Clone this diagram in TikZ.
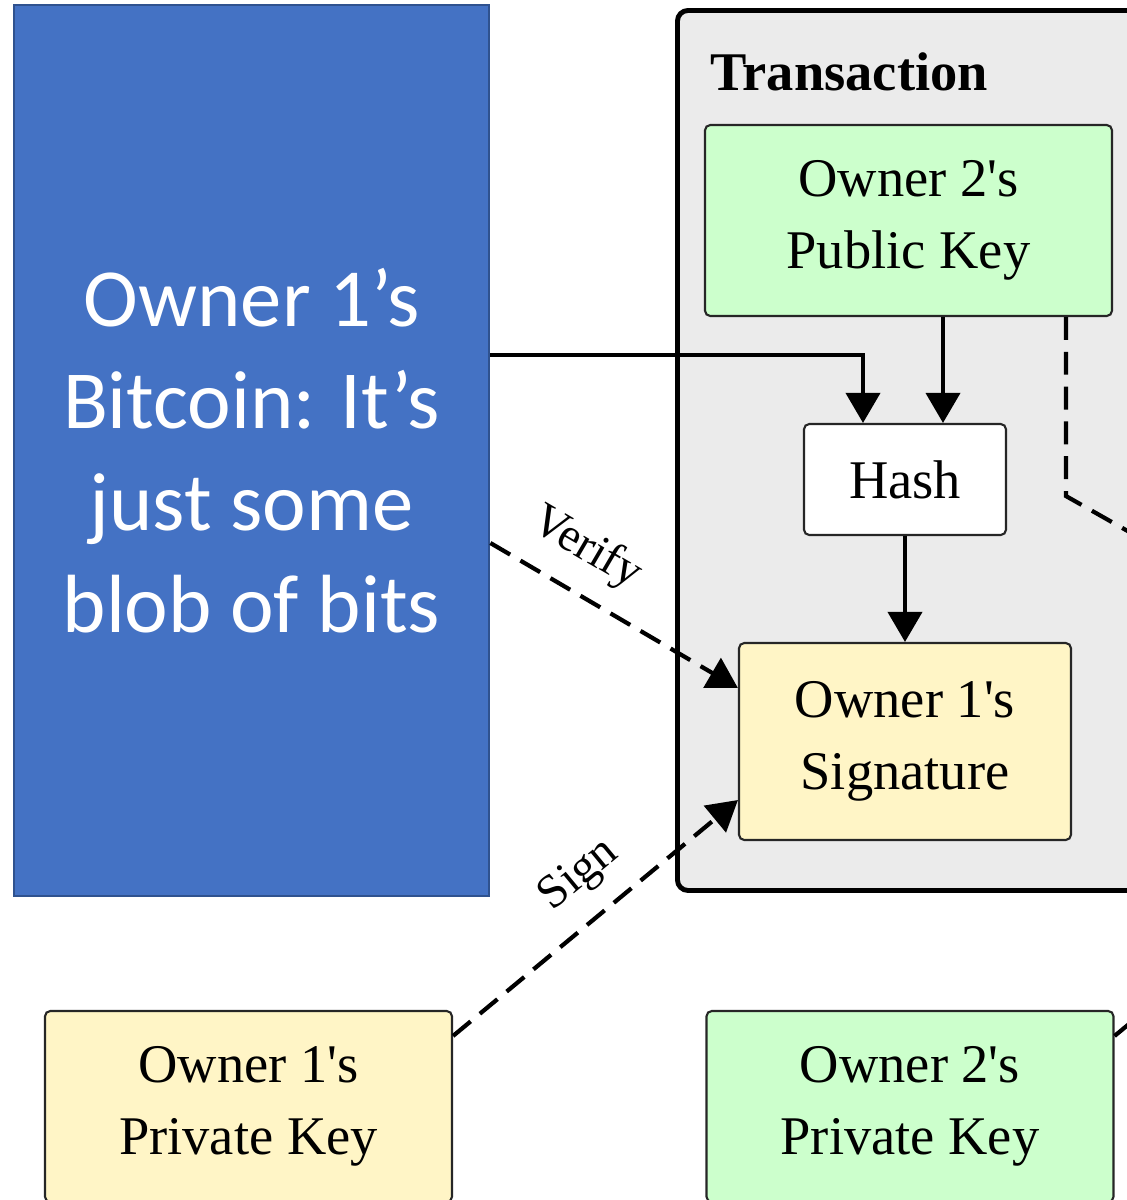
\documentclass[tikz,border=0pt]{standalone}
\usepackage{fontspec}
\setmainfont{Liberation Serif}[Ligatures=TeXOff]
\newfontfamily\calibri{Carlito}
\usetikzlibrary{arrows.meta, positioning, calc}
\definecolor{BlobBlue}{HTML}{4472C4}
\definecolor{BlobEdge}{HTML}{2F528F}
\definecolor{TxGray}{HTML}{EBEBEB}
\definecolor{KeyGreen}{HTML}{CCFFCC}
\definecolor{SigYellow}{HTML}{FFF5C6}

\begin{document}
\begin{tikzpicture}[
        box/.style={draw=black!85, rounded corners=1.5pt, line width=0.6pt, align=center, inner sep=0pt, font=\fontsize{15.5}{20.5}\selectfont},
        arr/.style={-{Triangle[length=3mm, width=3.4mm]}, line width=1.1pt},
        dline/.style={line width=1.2pt, dash pattern=on 6.5pt off 3.4pt},
        darr/.style={arr, dline},
        lbl/.style={font=\fontsize{13.5}{15}\selectfont, sloped, above=0.8mm}
    ]
        \useasboundingbox (0,0) rectangle (11.27,-12);
        \clip (0,0) rectangle (11.27,-12);
        % transaction frame, runs off the right edge
        \node[draw, line width=1.4pt, fill=TxGray, rounded corners=3pt, minimum width=6.5cm, minimum height=8.8cm, anchor=north west] (tx) at (6.75,-0.08) {};
        \node[anchor=west, font=\bfseries\fontsize{15.5}{18}\selectfont] (txlabel) at (6.98,-0.72) {Transaction};

        \node[draw=BlobEdge, line width=0.8pt, fill=BlobBlue, text=white, align=center, minimum width=4.75cm, minimum height=8.91cm, font=\calibri\fontsize{23.5}{29}\selectfont] (bitcoin) at (2.515,-4.505) {Owner 1’s\\Bitcoin: It’s\\just some\\blob of bits};

        \node[box, fill=KeyGreen,  minimum width=4.07cm, minimum height=1.91cm] (pub)   at (9.085,-2.205)  {Owner 2's\\Public Key};
        \node[box, fill=white,     minimum width=2.02cm, minimum height=1.11cm] (hash)  at (9.05,-4.795)   {Hash};
        \node[box, fill=SigYellow, minimum width=3.32cm, minimum height=1.97cm] (sig)   at (9.05,-7.415)   {Owner 1's\\Signature};
        \node[box, fill=SigYellow, minimum width=4.07cm, minimum height=1.91cm] (priv1) at (2.485,-11.065) {Owner 1's\\Private Key};
        \node[box, fill=KeyGreen,  minimum width=4.07cm, minimum height=1.91cm] (priv2) at (9.10,-11.065)  {Owner 2's\\Private Key};

        % ends that leave the picture
        \coordinate (hin)   at ([xshift=0.38cm]hash.north);
        \coordinate (pout)  at ([xshift=1.575cm]pub.south);
        \coordinate (next)  at (12.0,-5.72);
        \coordinate (nextsig) at (14.0,-8.0);

        \draw[arr] ([yshift=0.955cm]bitcoin.east) -| ([xshift=-0.42cm]hash.north);
        \draw[arr] (hin |- pub.south) -- (hin);
        \draw[arr] (hash) -- (sig);
        \draw[darr] ([yshift=-0.925cm]bitcoin.east) -- ([yshift=0.535cm]sig.west) node[lbl, pos=0.3] {Verify};
        \draw[darr] ([yshift=-0.26cm]priv1.north east) -- ([yshift=-0.585cm]sig.west) node[lbl, pos=0.54] {Sign};
        \draw[dline] (pout) -- ++(0,-1.79) -- (next);
        \draw[dline] ([yshift=-0.26cm]priv2.north east) -- (nextsig);
    \end{tikzpicture}
\end{document}
